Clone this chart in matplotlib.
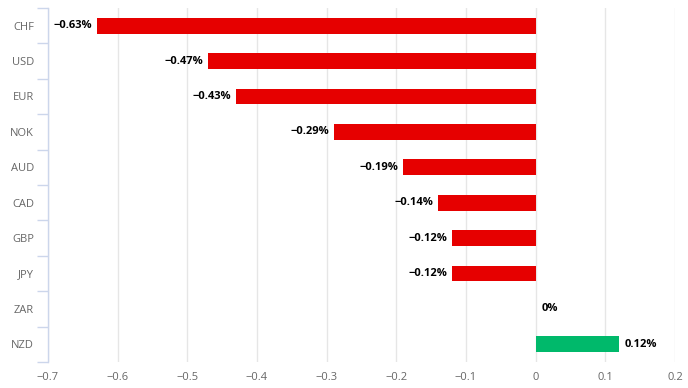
import numpy as np
import matplotlib.pyplot as plt

currencies = ['CHF', 'USD', 'EUR', 'NOK', 'AUD', 'CAD', 'GBP', 'JPY', 'ZAR', 'NZD']
changes = [-0.63, -0.47, -0.43, -0.29, -0.19, -0.14, -0.12, -0.12, 0.0, 0.12]
labels = ['\u22120.63%', '\u22120.47%', '\u22120.43%', '\u22120.29%', '\u22120.19%',
          '\u22120.14%', '\u22120.12%', '\u22120.12%', '0%', '0.12%']
xticks = [-0.7, -0.6, -0.5, -0.4, -0.3, -0.2, -0.1, 0, 0.1, 0.2]

plt.rcParams['font.family'] = ['Open Sans', 'DejaVu Sans']

fig = plt.figure(figsize=(6.88, 3.88), dpi=100)
ax = fig.add_axes([48 / 688, 1 - 362 / 388, (675 - 48) / 688, (362 - 8) / 388])

y = np.arange(len(currencies))
colors = ['#e60000' if v < 0 else '#00b96b' for v in changes]
ax.barh(y, changes, height=0.45, color=colors, zorder=3)

for yi, v, lab in zip(y, changes, labels):
    if v < 0:
        ax.annotate(lab, (v, yi), xytext=(-3.5, 0), textcoords='offset points',
                    ha='right', va='center', fontsize=8, fontweight='bold', color='#000000')
    else:
        ax.annotate(lab, (v, yi), xytext=(4, 0), textcoords='offset points',
                    ha='left', va='center', fontsize=8, fontweight='bold', color='#000000')

ax.set_xlim(-0.7, 0.2)
ax.set_ylim(len(currencies) - 0.5, -0.5)
ax.set_xticks(xticks)
ax.set_xticklabels(['\u22120.7', '\u22120.6', '\u22120.5', '\u22120.4', '\u22120.3',
                    '\u22120.2', '\u22120.1', '0', '0.1', '0.2'])
ax.set_yticks(y)
ax.set_yticklabels(currencies)
ax.set_yticks(np.arange(len(currencies) + 1) - 0.5, minor=True)

ax.grid(axis='x', color='#e6e6e6', linewidth=1, zorder=0)
for s in ['top', 'right', 'bottom']:
    ax.spines[s].set_visible(False)
ax.spines['left'].set_color('#ccd6eb')
ax.spines['left'].set_linewidth(1)

ax.tick_params(axis='x', length=0, labelsize=8, colors='#666666', pad=7)
ax.tick_params(axis='y', which='major', length=0, labelsize=8, colors='#666666', pad=10)
ax.tick_params(axis='y', which='minor', length=8, width=1, color='#ccd6eb')

fig.savefig('out.png', dpi=100)
